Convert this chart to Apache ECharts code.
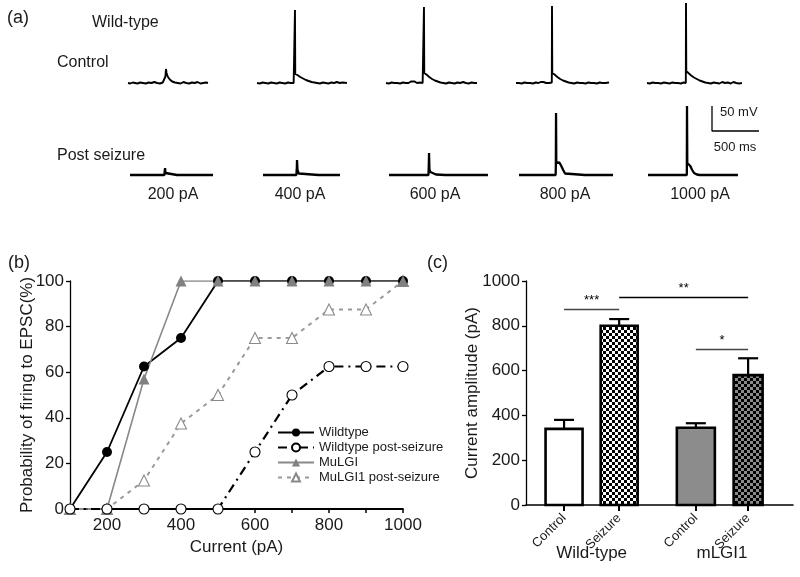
<!DOCTYPE html>
<html><head><meta charset="utf-8">
<script src="https://cdn.jsdelivr.net/npm/echarts@6/dist/echarts.min.js"></script>
<style>html,body{margin:0;padding:0;background:#fff}#c{width:800px;height:577px}</style>
</head><body><div id="c"></div>
<script>
// ---------- Panel (a): membrane potential traces, [time (ms), potential (mV)] ----------
const stimLabels = ['200 pA', '400 pA', '600 pA', '800 pA', '1000 pA'];
const traceCtrl200 = [[0,-70],[25,-71],[50,-69],[75,-70],[100,-71],[130,-69],[160,-70],[190,-71],[220,-69],[250,-70],[280,-68],[310,-70],[340,-71],[370,-69],[390,-70],[398,-57],[404,-42],[410,-50],[425,-58],[445,-63],[470,-67],[500,-69],[530,-70],[560,-71],[590,-68],[620,-70],[650,-71],[680,-69],[710,-70],[740,-68],[770,-71],[800,-70],[830,-69],[851,-70]];
const traceCtrl400 = [[0,-70],[30,-71],[60,-69],[90,-70],[120,-71],[150,-69],[180,-70],[210,-71],[240,-69],[270,-70],[300,-71],[330,-69],[360,-70],[390,-70],[402,-69],[404,76],[407,-52],[430,-54],[460,-58],[490,-61],[520,-64],[550,-66],[580,-68],[610,-69],[640,-70],[670,-71],[700,-69],[730,-70],[760,-71],[790,-69],[820,-70],[850,-68],[880,-70],[910,-69],[957,-70]];
const traceCtrl600 = [[0,-70],[30,-71],[60,-69],[90,-70],[120,-70],[150,-71],[180,-69],[210,-70],[240,-70],[265,-67],[285,-65],[305,-67],[330,-70],[360,-69],[390,-70],[402,-69],[404,82],[407,-50],[430,-53],[460,-58],[490,-62],[520,-65],[550,-67],[580,-69],[610,-70],[640,-71],[670,-69],[700,-70],[730,-71],[760,-69],[790,-70],[820,-68],[850,-70],[880,-71],[910,-69],[940,-70],[968,-70]];
const traceCtrl800 = [[0,-70],[30,-70],[60,-71],[90,-69],[120,-70],[150,-70],[180,-71],[210,-69],[240,-70],[262,-68],[277,-66],[292,-68],[320,-70],[350,-70],[381,-69],[383,84],[386,-50],[410,-53],[440,-58],[470,-62],[500,-65],[530,-67],[560,-69],[590,-70],[620,-71],[650,-69],[680,-70],[710,-70],[740,-71],[770,-69],[800,-70],[830,-70],[860,-71],[890,-69],[920,-70],[950,-70],[990,-69]];
const traceCtrl1000 = [[0,-70],[30,-71],[60,-69],[90,-70],[120,-70],[150,-71],[180,-69],[210,-70],[240,-71],[270,-69],[300,-70],[330,-70],[360,-71],[390,-69],[413,-70],[415,90],[418,-46],[440,-50],[470,-55],[500,-59],[530,-62],[560,-65],[590,-67],[620,-69],[650,-70],[680,-71],[710,-69],[740,-70],[770,-71],[800,-68],[830,-70],[860,-69],[890,-71],[920,-68],[950,-70],[980,-71],[1010,-70]];
const tracePost200 = [[0,-70],[100,-70],[200,-70],[270,-70],[280,-67],[290,-70],[365,-70],[370,-62],[373,-56],[378,-66],[385,-70],[500,-70],[600,-70],[700,-70],[800,-70],[883,-70]];
const tracePost400 = [[0,-70],[100,-70],[200,-70],[300,-70],[355,-70],[360,-55],[362,-40],[367,-60],[380,-67],[400,-70],[590,-70],[596,-66],[602,-70],[700,-70],[819,-70]];
const tracePost600 = [[0,-70],[100,-70],[240,-70],[245,-67],[250,-70],[350,-70],[420,-70],[424,-45],[426,-26],[430,-58],[440,-64],[460,-67],[500,-69],[600,-70],[645,-70],[650,-67],[655,-70],[750,-70],[850,-70],[950,-70],[1053,-70]];
const tracePost800 = [[0,-70],[50,-70],[60,-68],[70,-70],[200,-70],[300,-70],[390,-70],[392,-50],[394,54],[397,-46],[410,-44],[430,-45],[450,-52],[470,-60],[490,-67],[510,-70],[700,-70],[760,-70],[765,-67],[770,-70],[850,-70],[1000,-70]];
const tracePost1000 = [[0,-70],[100,-70],[200,-70],[300,-70],[413,-70],[415,68],[418,-46],[430,-45],[450,-52],[470,-60],[490,-66],[520,-69],[550,-70],[700,-70],[850,-70],[957,-70]];
const scaleBar = [[0,50],[0,0],[500,0]]; // 50 mV / 500 ms

// ---------- Panel (b): probability of firing ----------
const currents = [100,200,300,400,500,600,700,800,900,1000];
const wildtype = [0,25,62.5,75,100,100,100,100,100,100];
const wildtypePost = [0,0,0,0,0,25,50,62.5,62.5,62.5];
const mulgi = [0,0,57,100,100,100,100,100,100,100];
const mulgiPost = [0,0,12.5,37.5,50,75,75,87.5,87.5,100];

// ---------- Panel (c): current amplitude ----------
const groupNames = ['Wild-type', 'mLGI1'];
const conditions = ['Control', 'Seizure', 'Control', 'Seizure'];
const barMeans = [340, 800, 345, 580];
const barErrTop = [380, 830, 365, 655];
const sigLevels = [['***', 0, 1, 875], ['**', 1, 3, 929], ['*', 2, 3, 696]];

// ---------- layout / style ----------
const FONT = 'Liberation Sans, Arial, sans-serif';
const barSlots = [0.67, 1.64, 2.99, 3.91];
const barWidthPx = [37, 37, 38, 29];
function checker(c1, c2, s) {
  const cv = document.createElement('canvas'); cv.width = cv.height = 2 * s;
  const g = cv.getContext('2d'); g.fillStyle = c1; g.fillRect(0, 0, 2 * s, 2 * s);
  g.fillStyle = c2; g.fillRect(0, 0, s, s); g.fillRect(s, s, s, s); return cv;
}
const barFills = ['#ffffff', {image: checker('#ffffff', '#000000', 3), repeat: 'repeat'}, '#8c8c8c', {image: checker('#8a8a8a', '#000000', 3), repeat: 'repeat'}];

const ctrlTraces = [traceCtrl200, traceCtrl400, traceCtrl600, traceCtrl800, traceCtrl1000];
const postTraces = [tracePost200, tracePost400, tracePost600, tracePost800, tracePost1000];
const ctrlLeft = [128, 257, 386, 516, 647];
const postLeft = [130, 263, 389, 519, 648];

const grids = [], xAxes = [], yAxes = [], series = [];
function addTraceGrid(left, top, data, lw) {
  const i = grids.length;
  grids.push({left: left, top: top, width: 100, height: 90, outerBoundsMode: 'none'});
  xAxes.push({type: 'value', gridIndex: i, min: 0, max: 1064, show: false});
  yAxes.push({type: 'value', gridIndex: i, min: -84, max: 96, show: false});
  series.push({type: 'line', xAxisIndex: i, yAxisIndex: i, data: data, symbol: 'none', silent: true,
    lineStyle: {color: '#000', width: lw}, clip: false});
}
ctrlTraces.forEach((d, k) => addTraceGrid(ctrlLeft[k], 0, d, 1.9));
postTraces.forEach((d, k) => addTraceGrid(postLeft[k], 92, d, 2.3));
// scale bar grid
(function () {
  const i = grids.length;
  grids.push({left: 712, top: 106, width: 47, height: 25, outerBoundsMode: 'none'});
  xAxes.push({type: 'value', gridIndex: i, min: 0, max: 500, show: false});
  yAxes.push({type: 'value', gridIndex: i, min: 0, max: 50, show: false});
  series.push({type: 'line', xAxisIndex: i, yAxisIndex: i, data: scaleBar, symbol: 'none', lineStyle: {color: '#000', width: 1.3}, clip: false});
})();

// Panel (b) grid
const gB = grids.length;
grids.push({left: 70, top: 281, width: 333, height: 228, outerBoundsMode: 'none'});
const axisTxt = {color: '#1a1a1a', fontSize: 17, fontFamily: FONT};
xAxes.push({type: 'value', gridIndex: gB, min: 100, max: 1000, interval: 100,
  name: 'Current (pA)', nameLocation: 'middle', nameGap: 30, nameTextStyle: axisTxt,
  axisLine: {onZero: false, lineStyle: {color: '#000', width: 1.8}},
  axisTick: {show: true, length: 4, lineStyle: {color: '#000', width: 1.5}},
  axisLabel: Object.assign({margin: 8, formatter: v => (v % 200 === 0 ? String(v) : '')}, axisTxt),
  splitLine: {show: false}});
yAxes.push({type: 'value', gridIndex: gB, min: 0, max: 100, interval: 20,
  name: 'Probability of firing to EPSC(%)', nameLocation: 'middle', nameGap: 34, nameMoveOverlap: false, nameTextStyle: axisTxt,
  axisLine: {show: true, lineStyle: {color: '#000', width: 1.3}},
  axisTick: {show: true, length: 4, lineStyle: {color: '#000', width: 1.3}},
  axisLabel: Object.assign({margin: 6}, axisTxt), splitLine: {show: false}});
const pts = arr => currents.map((c, i) => [c, arr[i]]);
series.push({name: 'Wildtype', type: 'line', xAxisIndex: gB, yAxisIndex: gB, data: pts(wildtype),
  symbol: 'circle', symbolSize: 10, itemStyle: {color: '#000'}, lineStyle: {color: '#000', width: 1.8}, z: 3});
series.push({name: 'Wildtype post-seizure', type: 'line', xAxisIndex: gB, yAxisIndex: gB, data: pts(wildtypePost),
  symbol: 'circle', symbolSize: 10, itemStyle: {color: '#fff', borderColor: '#000', borderWidth: 1.1}, lineStyle: {color: '#000', width: 2.2, type: [9, 5, 2, 5]}, z: 4});
series.push({name: 'MuLGI', type: 'line', xAxisIndex: gB, yAxisIndex: gB, data: pts(mulgi),
  symbol: 'triangle', symbolSize: 11, itemStyle: {color: '#808080'}, lineStyle: {color: '#888', width: 1.6}, z: 3});
series.push({name: 'MuLGI1 post-seizure', type: 'line', xAxisIndex: gB, yAxisIndex: gB, data: pts(mulgiPost),
  symbol: 'triangle', symbolSize: 11, itemStyle: {color: '#fff', borderColor: '#8a8a8a', borderWidth: 1.1}, lineStyle: {color: '#9a9a9a', width: 2, type: [4, 5]}, z: 2});

// Panel (c) grid
const gC = grids.length;
grids.push({left: 526, top: 281, width: 267, height: 224, outerBoundsMode: 'none'});
xAxes.push({type: 'value', gridIndex: gC, min: 0, max: 4.7, position: 'bottom',
  axisLine: {onZero: false, lineStyle: {color: '#000', width: 1.6}},
  axisTick: {show: true, length: 6, customValues: barSlots, lineStyle: {color: '#000', width: 2}},
  axisLabel: {customValues: barSlots, rotate: 45, margin: 11, fontSize: 13, color: '#1a1a1a', fontFamily: FONT,
    formatter: v => conditions[barSlots.indexOf(v)] || ''},
  splitLine: {show: false}});
const groupCenters = [(barSlots[0] + barSlots[1]) / 2, (barSlots[2] + barSlots[3]) / 2];
xAxes.push({type: 'value', gridIndex: gC, min: 0, max: 4.7, position: 'bottom',
  axisLine: {show: false}, axisTick: {show: false}, splitLine: {show: false},
  axisLabel: {customValues: groupCenters, margin: 40, fontSize: 17, color: '#1a1a1a', fontFamily: FONT,
    formatter: v => groupNames[groupCenters.indexOf(v)] || ''}});
yAxes.push({type: 'value', gridIndex: gC, min: 0, max: 1000, interval: 200,
  name: 'Current amplitude (pA)', nameLocation: 'middle', nameGap: 45, nameMoveOverlap: false, nameTextStyle: axisTxt,
  axisLine: {show: true, lineStyle: {color: '#000', width: 1.3}},
  axisTick: {show: true, length: 4, lineStyle: {color: '#000', width: 1.3}},
  axisLabel: Object.assign({margin: 6, formatter: v => String(v)}, axisTxt), splitLine: {show: false}});
series.push({type: 'custom', xAxisIndex: gC, yAxisIndex: gC, silent: true,
  data: barMeans.map((m, i) => [barSlots[i], m, barErrTop[i]]),
  renderItem: function (params, api) {
    const i = params.dataIndex;
    const x = api.value(0);
    const top = api.coord([x, api.value(1)]);
    const base = api.coord([x, 0]);
    const et = api.coord([x, api.value(2)]);
    const w = barWidthPx[i];
    return {type: 'group', children: [
      {type: 'line', shape: {x1: top[0], y1: top[1], x2: et[0], y2: et[1]}, style: {stroke: '#000', lineWidth: 2.2}},
      {type: 'line', shape: {x1: et[0] - 10, y1: et[1], x2: et[0] + 10, y2: et[1]}, style: {stroke: '#000', lineWidth: 2.2}},
      {type: 'rect', shape: {x: top[0] - w / 2, y: top[1], width: w, height: base[1] - top[1]},
        style: {fill: barFills[i], stroke: '#000', lineWidth: 2.6}}
    ]};
  }});
series.push({type: 'line', xAxisIndex: gC + 1, yAxisIndex: gC, data: [], silent: true,
  markLine: {symbol: 'none', silent: true, animation: false,
    data: sigLevels.map(s => [
      {coord: [barSlots[s[1]], s[3]], lineStyle: {color: s[0] === '**' ? '#000' : '#444', width: 1.3, type: 'solid'},
        label: {show: true, formatter: s[0], position: 'insideMiddleTop', distance: 2, color: '#000', fontSize: 13, fontFamily: FONT}},
      {coord: [barSlots[s[2]], s[3]]}
    ])}});

const txt = (t, x, y, size, align) => ({type: 'text', x: x, y: y, silent: true,
  style: {text: t, fontSize: size, fontFamily: FONT, fill: '#1a1a1a', align: align || 'left', verticalAlign: 'middle'}});
const labelCenters = [173, 300, 435, 565, 700];
const graphics = [
  txt('(a)', 7, 18, 18), txt('Wild-type', 92, 23, 16), txt('Control', 57, 63, 16), txt('Post seizure', 57, 156, 16),
  txt('50 mV', 720, 112, 13), txt('500 ms', 735, 147, 13, 'center'),
  txt('(b)', 8, 263, 18), txt('(c)', 427, 263, 18)
].concat(stimLabels.map((s, i) => txt(s, labelCenters[i], 195, 16, 'center')));

const chart = echarts.init(document.getElementById('c'), null, {renderer: 'canvas'});
chart.setOption({
  animation: false, backgroundColor: '#fff',
  grid: grids, xAxis: xAxes, yAxis: yAxes, series: series, graphic: graphics,
  legend: {orient: 'vertical', left: 277, top: 426, itemGap: 2, itemWidth: 36, itemHeight: 10, padding: 0,
    selectedMode: false, textStyle: {fontSize: 13, fontFamily: FONT, color: '#1a1a1a'},
    data: ['Wildtype', 'Wildtype post-seizure', 'MuLGI', 'MuLGI1 post-seizure']}
});
</script></body></html>
